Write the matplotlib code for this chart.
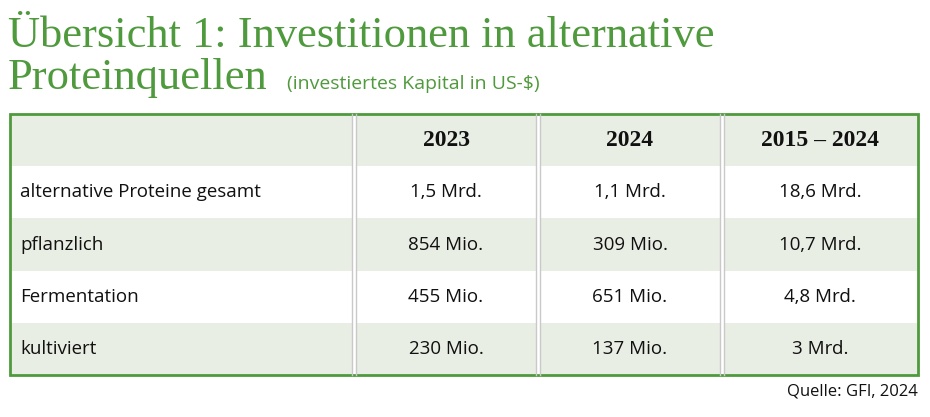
import matplotlib.pyplot as plt
from matplotlib.patches import Rectangle

# ── data ──────────────────────────────────────────────────────────────
columns = ["2023", "2024", "2015 – 2024"]
row_labels = ["alternative Proteine gesamt", "pflanzlich", "Fermentation", "kultiviert"]
vals_2023 = ["1,5 Mrd.", "854 Mio.", "455 Mio.", "230 Mio."]
vals_2024 = ["1,1 Mrd.", "309 Mio.", "651 Mio.", "137 Mio."]
vals_total = ["18,6 Mrd.", "10,7 Mrd.", "4,8 Mrd.", "3 Mrd."]

GREEN = "#4f9a3c"
SHADE = "#e9eee4"
SERIF = "Liberation Serif"
SANS = "Open Sans"

fig = plt.figure(figsize=(9.3, 4.17), dpi=100)
ax = fig.add_axes([0, 0, 1, 1])
ax.set_xlim(0, 930)
ax.set_ylim(417, 0)
ax.axis("off")

# ── title ─────────────────────────────────────────────────────────────
ax.text(8, 36, "Übersicht 1: Investitionen in alternative", fontfamily=SERIF,
        fontsize=32, color=GREEN, va="center", ha="left")
ax.text(8, 78, "Proteinquellen", fontfamily=SERIF, fontsize=32,
        color=GREEN, va="center", ha="left")
ax.text(287, 84, "(investiertes Kapital in US-\\$)", fontfamily=SANS,
        fontsize=14, color=GREEN, va="center", ha="left")

# ── table ─────────────────────────────────────────────────────────────
left, right, top, row_h = 10, 918, 114, 52.2
col_edges = [left, 354, 538, 722, right]
n_rows = len(row_labels) + 1
bottom = top + row_h * n_rows

for r in range(n_rows):
    if r % 2 == 0:
        ax.add_patch(Rectangle((left, top + r * row_h), right - left, row_h,
                               facecolor=SHADE, edgecolor="none"))
for x in col_edges[1:-1]:
    ax.add_patch(Rectangle((x - 2, top), 4, bottom - top, facecolor="#ffffff",
                           edgecolor="none"))
    ax.plot([x - 2, x - 2], [top, bottom], color="#c9c9c9", lw=1)
    ax.plot([x + 2, x + 2], [top, bottom], color="#c9c9c9", lw=1)
ax.add_patch(Rectangle((left, top), right - left, bottom - top, facecolor="none",
                       edgecolor=GREEN, lw=2))

def ycen(r):
    return top + (r + 0.5) * row_h

for c, name in enumerate(columns):
    xc = (col_edges[c + 1] + col_edges[c + 2]) / 2
    ax.text(xc, ycen(0), name, fontfamily=SERIF, fontweight="bold", fontsize=17,
            ha="center", va="center", color="#111111")

for r, label in enumerate(row_labels):
    ax.text(20, ycen(r + 1), label, fontfamily=SANS, fontsize=13.5,
            ha="left", va="center", color="#111111")
    for c, series in enumerate([vals_2023, vals_2024, vals_total]):
        xc = (col_edges[c + 1] + col_edges[c + 2]) / 2
        ax.text(xc, ycen(r + 1), series[r], fontfamily=SANS, fontsize=13.5,
                ha="center", va="center", color="#111111")

ax.text(918, 392, "Quelle: GFI, 2024", fontfamily=SANS, fontsize=12,
        ha="right", va="center", color="#111111")

fig.savefig("out.png", dpi=100, facecolor="white")
